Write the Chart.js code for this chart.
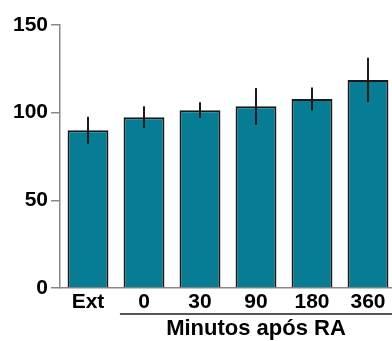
<!DOCTYPE html>
<html>
<head>
<meta charset="utf-8">
<script src="https://cdn.jsdelivr.net/npm/chart.js@4/dist/chart.umd.min.js"></script>
<style>
html,body{margin:0;padding:0;overflow:hidden;background:#fff;}
canvas{display:block;}
</style>
</head>
<body>
<canvas id="c" width="400" height="341"></canvas>
<script>
const categories = ["Ext", "0", "30", "90", "180", "360"];
const means = [90.0, 97.4, 101.4, 103.6, 107.8, 118.7];
const errors = [7.7, 6.2, 4.5, 10.5, 6.6, 12.6];
const yTicks = [0, 50, 100, 150];
const groupLabel = "Minutos após RA";

const FONT = "'Liberation Sans', Arial, Helvetica, sans-serif";

const errorBars = {
  id: 'errorBars',
  afterDatasetsDraw(chart) {
    const ctx = chart.ctx;
    const meta = chart.getDatasetMeta(0);
    const y = chart.scales.y;
    ctx.save();
    ctx.strokeStyle = '#1a1a1a';
    ctx.lineWidth = 2;
    meta.data.forEach((bar, i) => {
      const top = y.getPixelForValue(means[i] + errors[i]);
      const bot = y.getPixelForValue(means[i] - errors[i]);
      ctx.beginPath();
      ctx.moveTo(Math.round(bar.x), top);
      ctx.lineTo(Math.round(bar.x), bot);
      ctx.stroke();
    });
    ctx.restore();
  }
};

const groupPlugin = {
  id: 'groupPlugin',
  afterDraw(chart) {
    const ctx = chart.ctx;
    const x = chart.scales.x;
    const area = chart.chartArea;
    const catW = x.getPixelForValue(1) - x.getPixelForValue(0);
    const x0 = x.getPixelForValue(1) - 0.43 * catW;
    const lineY = area.bottom + 26;
    ctx.save();
    ctx.strokeStyle = '#555';
    ctx.lineWidth = 2;
    ctx.beginPath();
    ctx.moveTo(x0, lineY);
    ctx.lineTo(chart.width, lineY);
    ctx.stroke();
    ctx.fillStyle = '#000';
    ctx.font = "bold 22px " + FONT;
    ctx.textAlign = 'center';
    ctx.textBaseline = 'alphabetic';
    const cx = (x.getPixelForValue(1) + x.getPixelForValue(categories.length - 1)) / 2;
    ctx.fillText(groupLabel, cx, area.bottom + 47);
    ctx.restore();
  }
};

new Chart(document.getElementById('c'), {
  type: 'bar',
  data: {
    labels: categories,
    datasets: [{
      data: means,
      backgroundColor: '#077d95',
      borderColor: '#1a1a1a',
      borderWidth: 2,
      borderSkipped: 'bottom',
      barPercentage: 0.73,
      categoryPercentage: 1.0
    }]
  },
  options: {
    responsive: false,
    animation: false,
    devicePixelRatio: 1,
    layout: { padding: { top: 25, right: 4, left: 0, bottom: 0 } },
    plugins: { legend: { display: false }, tooltip: { enabled: false } },
    scales: {
      x: {
        offset: true,
        grid: { display: false, drawTicks: false },
        border: { display: true, color: '#888', width: 1.5 },
        ticks: { color: '#000', font: { family: FONT, size: 21, weight: 'bold' }, padding: 2, maxRotation: 0, autoSkip: false },
        afterFit(s) { s.height = 53; }
      },
      y: {
        min: 0, max: 150,
        afterBuildTicks(s) { s.ticks = yTicks.map(v => ({ value: v })); },
        grid: { drawOnChartArea: false, color: '#888', tickLength: 9, lineWidth: 1.5 },
        border: { display: true, color: '#888', width: 1.5 },
        ticks: { color: '#000', font: { family: FONT, size: 21, weight: 'bold' }, padding: 3 },
        afterFit(s) { s.width = 60; }
      }
    }
  },
  plugins: [errorBars, groupPlugin]
});
</script>
</body>
</html>
